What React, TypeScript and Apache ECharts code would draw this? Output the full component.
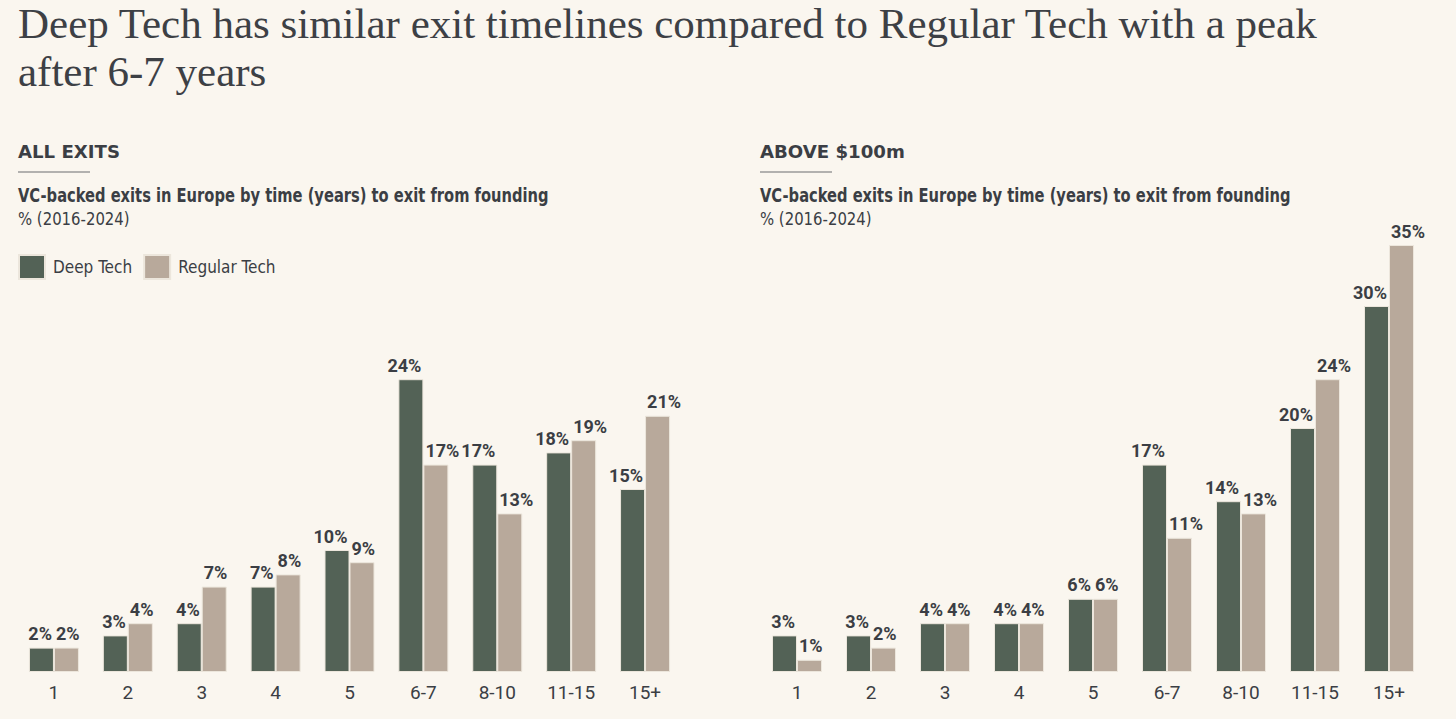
import React, { useEffect, useRef } from "react";
import * as echarts from "echarts";

const categories = ["1", "2", "3", "4", "5", "6-7", "8-10", "11-15", "15+"];
const allDeep = [2, 3, 4, 7, 10, 24, 17, 18, 15];
const allRegular = [2, 4, 7, 8, 9, 17, 13, 19, 21];
const bigDeep = [3, 3, 4, 4, 6, 17, 14, 20, 30];
const bigRegular = [1, 2, 4, 4, 6, 11, 13, 24, 35];
const seriesNames = ["Deep Tech", "Regular Tech"];

const titleLine1 = "Deep Tech has similar exit timelines compared to Regular Tech with a peak";
const titleLine2 = "after 6-7 years";
const leftHeader = "ALL EXITS";
const rightHeader = "ABOVE $100m";
const subtitle = "VC-backed exits in Europe by time (years) to exit from founding";
const unitLine = "% (2016-2024)";

const BG = "#faf6ef";
const DARK = "#536256";
const LIGHT = "#b8a99b";
const TEXT = "#3b3e44";
const NARROW = '"DejaVu Sans Condensed", "Liberation Sans Narrow", Roboto, sans-serif';
const NUM = 'Roboto, "DejaVu Sans Condensed", sans-serif';
const SERIF = '"Liberation Serif", "DejaVu Serif", serif';

export default function App() {
  const ref = useRef<HTMLDivElement>(null);
  useEffect(() => {
    if (!ref.current) return;
    const chart = echarts.init(ref.current, undefined, { renderer: "svg" });
    const label = {
      show: true,
      position: "top" as const,
      distance: 5,
      formatter: "{c}%",
      fontFamily: NUM,
      fontWeight: "bold" as const,
      fontSize: 18,
      color: TEXT,
    };
    const bar = (name: string, data: number[], idx: number, color: string) => ({
      type: "bar" as const,
      name,
      data,
      xAxisIndex: idx,
      yAxisIndex: idx,
      barWidth: 25,
      barGap: "0%",
      itemStyle: { color, borderColor: "#ece6dc", borderWidth: 1 },
      label,
      labelLayout: (p: any) => {
        const over = p.labelRect.width - p.rect.width;
        if (over <= -4) return {};
        const shift = over / 2 + 2;
        return { dx: p.seriesIndex % 2 === 0 ? -shift : shift };
      },
    });
    const xAxis = (gi: number) => ({
      type: "category" as const,
      gridIndex: gi,
      data: categories,
      axisLine: { show: false },
      axisTick: { show: false },
      axisLabel: { fontFamily: NUM, fontSize: 19, color: TEXT, margin: 11 },
    });
    const yAxis = (gi: number) => ({
      type: "value" as const,
      gridIndex: gi,
      min: 0,
      max: 35,
      show: false,
      splitLine: { show: false },
    });
    const headerBlock = (x: number, header: string) => [
      {
        type: "text",
        x,
        y: 143,
        scaleX: 1.12,
        style: { text: header, font: `bold 18px ${NARROW}`, fill: TEXT },
      },
      {
        type: "line",
        shape: { x1: x, y1: 172, x2: x + 72, y2: 172 },
        style: { stroke: "#9a9a9a", lineWidth: 1.5 },
      },
      {
        type: "text",
        x,
        y: 186,
        scaleX: 0.86,
        style: { text: subtitle, font: `bold 19px ${NARROW}`, fill: TEXT },
      },
      {
        type: "text",
        x,
        y: 210,
        scaleX: 0.92,
        style: { text: unitLine, font: `18px ${NARROW}`, fill: TEXT },
      },
    ];
    chart.setOption({
      animation: false,
      backgroundColor: BG,
      grid: [
        { left: 17, top: 245, width: 665, height: 427 },
        { left: 760, top: 245, width: 666, height: 427 },
      ],
      xAxis: [xAxis(0), xAxis(1)],
      yAxis: [yAxis(0), yAxis(1)],
      legend: {
        data: seriesNames,
        left: 18,
        top: 254,
        padding: 0,
        icon: "rect",
        itemWidth: 26,
        itemHeight: 24,
        itemGap: 11,
        textStyle: { fontFamily: NARROW, fontSize: 17, color: TEXT, padding: [0, 0, 0, 3] },
      },
      graphic: [
        {
          type: "text",
          left: 18,
          top: 2,
          style: { text: titleLine1, font: `43px ${SERIF}`, fill: "#3d4045" },
        },
        {
          type: "text",
          left: 18,
          top: 50,
          style: { text: titleLine2, font: `43px ${SERIF}`, fill: "#3d4045" },
        },
        ...headerBlock(18, leftHeader),
        ...headerBlock(760, rightHeader),
      ],
      series: [
        bar(seriesNames[0], allDeep, 0, DARK),
        bar(seriesNames[1], allRegular, 0, LIGHT),
        bar(seriesNames[0], bigDeep, 1, DARK),
        bar(seriesNames[1], bigRegular, 1, LIGHT),
      ],
    });
    return () => chart.dispose();
  }, []);
  return (
    <div
      ref={ref}
      style={{ position: "absolute", left: 0, top: 0, width: 1456, height: 719 }}
    />
  );
}
